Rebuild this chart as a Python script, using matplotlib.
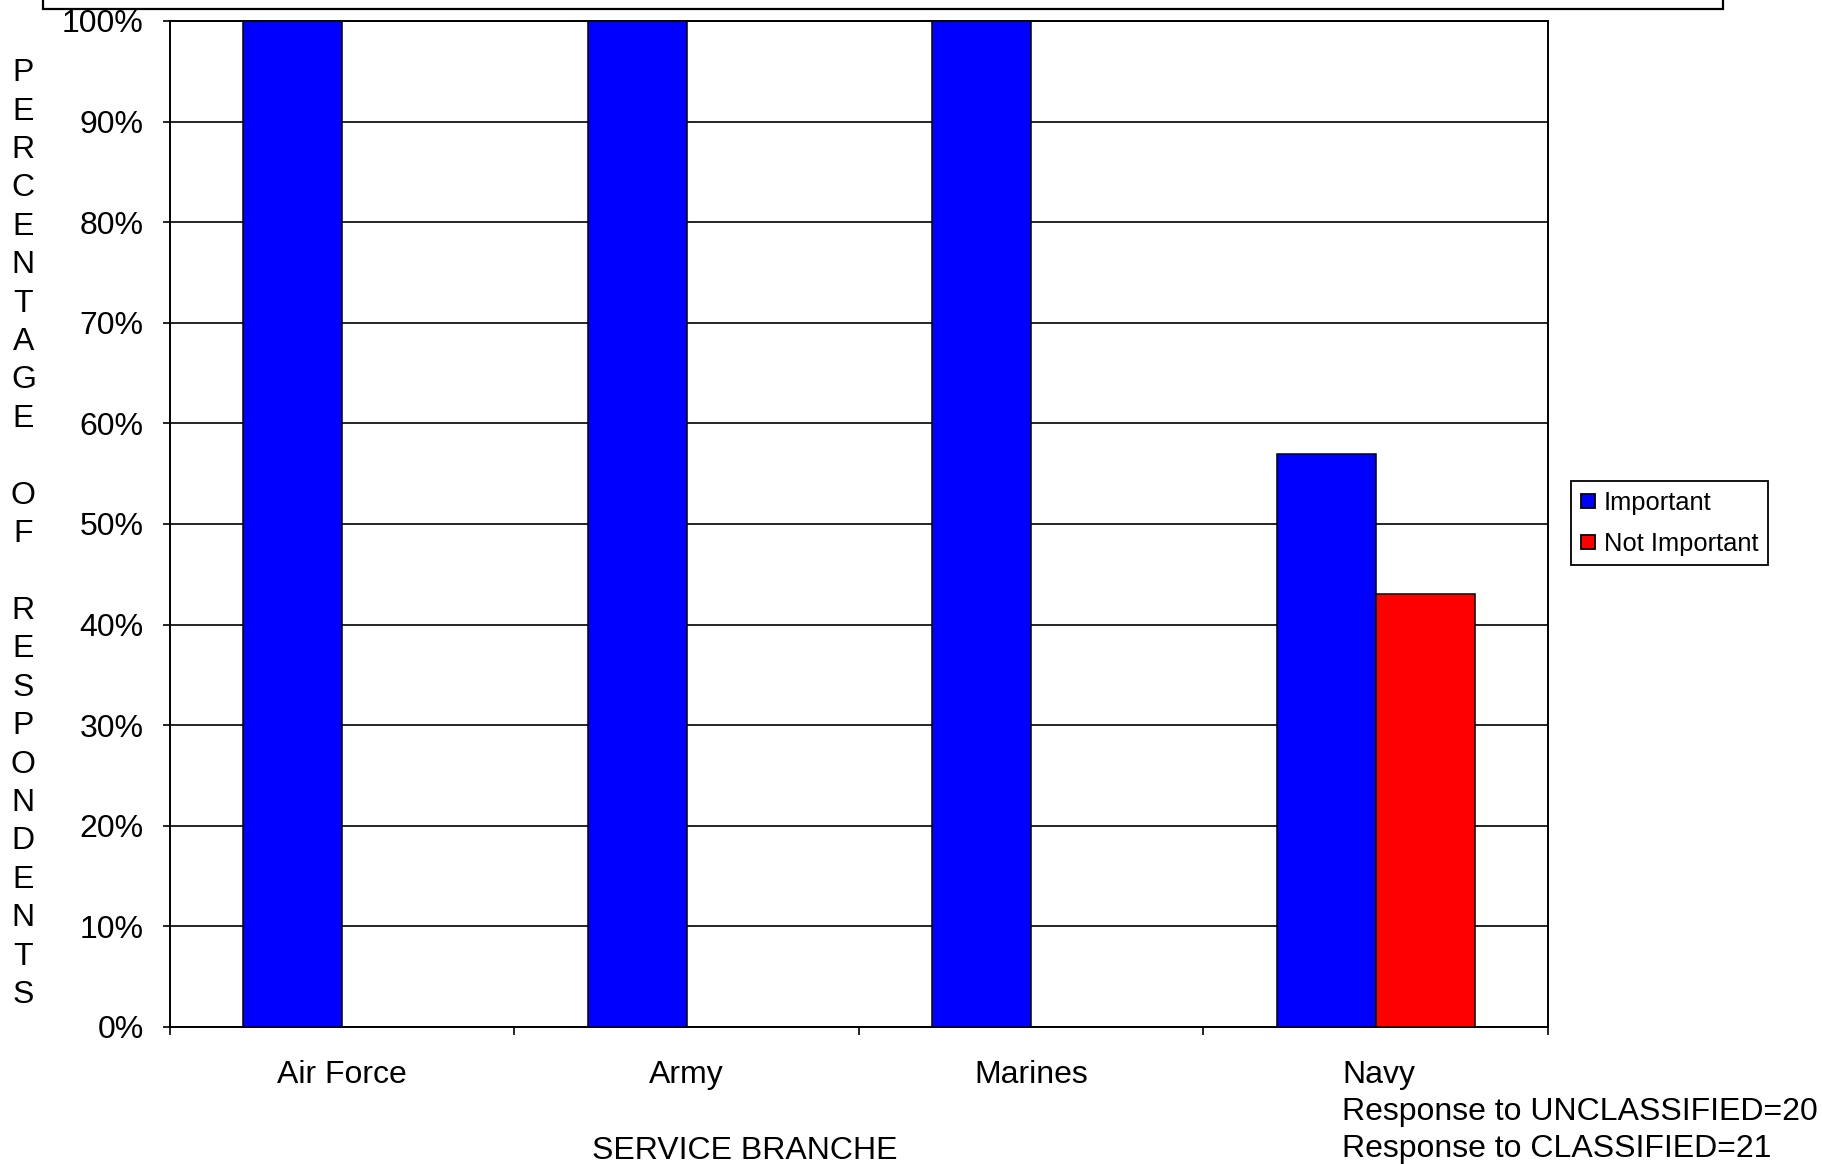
import numpy as np
import matplotlib.pyplot as plt
from matplotlib.patches import Rectangle
from matplotlib.lines import Line2D

plt.rcParams['font.family'] = ['Liberation Sans', 'DejaVu Sans']

branches = ['Air Force', 'Army', 'Marines', 'Navy']
important = [100, 100, 100, 57]
not_important = [0, 0, 0, 43]
navy_note = ['Response to UNCLASSIFIED=20', 'Response to CLASSIFIED=21']
ylabel_txt = 'PERCENTAGE OF RESPONDENTS'
xlabel_txt = 'SERVICE BRANCHE'

fig = plt.figure(figsize=(18.22, 11.64), dpi=100)
ax = fig.add_axes([0.0933, 0.1177, 0.7563, 0.8643])

# title box cut off at the top of the image
fig.patches.append(Rectangle((43/1822, 1 - 9/1164), (1723-43)/1822, 0.1,
                             transform=fig.transFigure, facecolor='white',
                             edgecolor='black', lw=1.6, clip_on=False))

x = np.arange(len(branches))
w = 0.287
ax.bar(x - w/2, important, width=w, color='#0000FF', edgecolor='black', lw=1.1, zorder=3)
ax.bar(x + w/2, not_important, width=w, color='#FF0000', edgecolor='black', lw=1.1, zorder=3)

ax.set_xlim(-0.5, len(branches) - 0.5)
ax.set_ylim(0, 100)
ax.set_yticks(np.arange(0, 101, 10))
ax.set_yticklabels([str(v) + '%' for v in range(0, 101, 10)], fontsize=23)
ax.yaxis.grid(True, color='black', lw=1.2, zorder=0)
ax.set_axisbelow(True)
ax.set_xticks(np.arange(-0.5, len(branches), 1))
ax.set_xticklabels([])
ax.tick_params(axis='y', length=5, width=1.2, pad=14, direction='out')
ax.tick_params(axis='x', length=6, width=1.2, direction='out')
for s in ax.spines.values():
    s.set_color('black')
    s.set_linewidth(1.4)

# category labels
for i in range(3):
    ax.text(x[i], -0.0328, branches[i], transform=ax.get_xaxis_transform(),
            ha='center', va='top', fontsize=23)
ax.text(x[3] - 0.097, -0.0328, '\n'.join([branches[3]] + navy_note),
        transform=ax.get_xaxis_transform(), ha='left', va='top',
        fontsize=23, linespacing=1.30)
ax.text(0.417, -0.1088, xlabel_txt, transform=ax.transAxes,
        ha='center', va='top', fontsize=23)

# stacked y label, one letter per line
for k, ch in enumerate(ylabel_txt):
    if ch != ' ':
        fig.text(0.0128, 0.9372 - k*0.0330, ch, ha='center', va='center', fontsize=23)

handles = [Line2D([], [], ls='none', marker='s', markersize=10, markerfacecolor='#0000FF',
                  markeredgecolor='black', markeredgewidth=1.3),
           Line2D([], [], ls='none', marker='s', markersize=10, markerfacecolor='#FF0000',
                  markeredgecolor='black', markeredgewidth=1.3)]
leg = fig.legend(handles, ['Important', 'Not Important'], loc='upper left',
                 bbox_to_anchor=(0.8622, 0.5868), fontsize=18.4, frameon=True,
                 fancybox=False, edgecolor='black', framealpha=1,
                 handlelength=0.55, handletextpad=0.35, borderpad=0.38,
                 labelspacing=0.66, borderaxespad=0)
leg.get_frame().set_linewidth(1.3)

plt.savefig('out.png', dpi=100)
